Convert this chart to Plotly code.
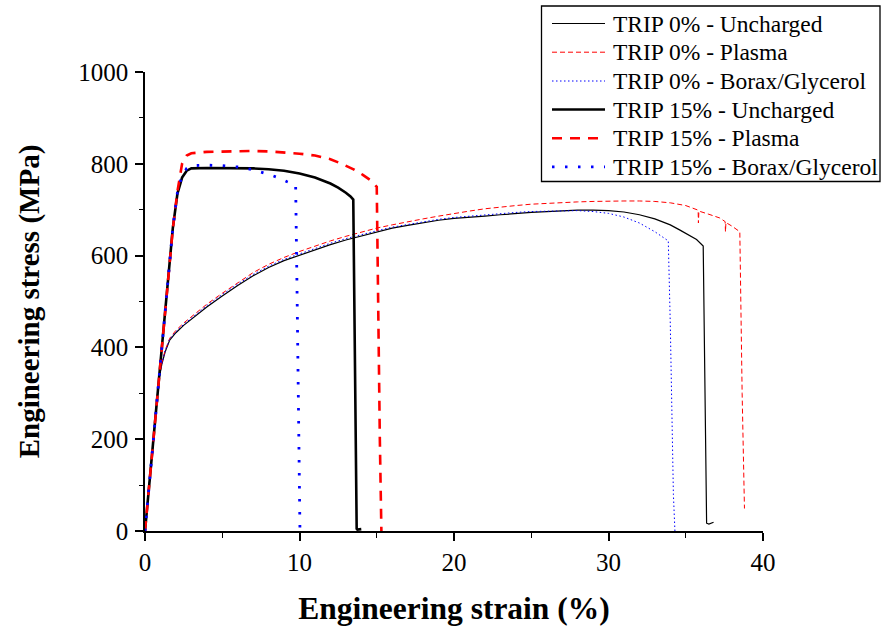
import plotly.graph_objects as go

# ---------------- data ----------------
s0_unch = [0, 0.3, 0.6, 0.9, 1.1, 1.3, 1.6, 2.0, 2.5, 3.0, 4, 5, 6, 7, 8, 9, 10, 11, 12, 13, 14, 15, 16, 17, 18, 19, 20,
           21, 22, 23, 24, 25, 26, 27, 28, 29, 30, 31, 32, 33, 34, 34.6, 35.2, 35.7, 36.13, 36.2, 36.28, 36.35, 36.5, 36.8]
t0_unch = [0, 110, 225, 330, 365, 390, 416, 432, 448, 462, 488, 512, 535, 556, 574, 589, 601, 613, 624, 634, 643, 652,
           660, 666, 672, 677, 681, 683, 686, 689, 692, 694, 696, 698, 699, 699, 698, 695, 689, 680, 667, 656, 645, 635,
           621, 400, 200, 17, 15, 19]

s0_plas = [0, 0.3, 0.6, 0.9, 1.1, 1.3, 1.6, 2, 2.5, 3, 4, 5, 6, 7, 8, 9, 10, 11, 12, 13, 14, 15, 16, 17, 18, 19, 20,
           21, 22, 23, 24, 25, 26, 27, 28, 29, 30, 31, 32, 33, 34, 35, 35.8, 35.82, 35.85, 36.5, 37.2, 37.55, 37.57,
           37.6, 38.0, 38.5, 38.65, 38.8]
t0_plas = [0, 110, 225, 332, 368, 393, 420, 437, 453, 467, 494, 518, 541, 563, 581, 596, 609, 621, 632, 642, 651, 660,
           667, 674, 680, 686, 692, 697, 702, 706, 709, 712, 714, 716, 717, 718, 719, 719, 719, 718, 715, 709, 699, 671,
           697, 690, 682, 674, 652, 672, 664, 652, 300, 49]

s0_bor = [0, 0.3, 0.6, 0.9, 1.1, 1.3, 1.6, 2, 2.5, 3, 4, 5, 6, 7, 8, 9, 10, 11, 12, 13, 14, 15, 16, 17, 18, 19, 20,
          21, 22, 23, 24, 25, 26, 27, 28, 29, 30, 31, 32, 33, 33.5, 33.87, 34.0, 34.1, 34.2, 34.3]
t0_bor = [0, 110, 225, 330, 366, 392, 418, 434, 450, 464, 491, 515, 538, 559, 577, 592, 604, 616, 627, 637, 646, 654,
          662, 668, 674, 679, 683, 686, 689, 692, 694, 696, 697, 698, 698, 696, 692, 684, 671, 652, 641, 632, 450, 250,
          80, 0]

s15_unch = [0, 0.5, 1.0, 1.4, 1.8, 2.1, 2.4, 2.7, 3.0, 4, 5, 6, 7, 8, 9, 10, 11, 12, 12.5, 13, 13.3, 13.48,
            13.55, 13.62, 13.7, 13.75, 14.0]
t15_unch = [0, 185, 370, 518, 660, 735, 770, 785, 790, 791, 791, 790, 790, 788, 785, 779, 770, 757, 748, 737, 729,
            722, 500, 250, 5, 3, 4]

s15_plas = [0, 0.5, 1.0, 1.4, 1.8, 2.1, 2.4, 2.7, 3.0, 4, 5, 6, 7, 8, 9, 10, 11, 12, 12.8, 13.5, 14.1, 14.6, 15.0,
            15.05, 15.1, 15.2, 15.3]
t15_plas = [0, 180, 365, 515, 658, 740, 800, 818, 823, 826, 827, 828, 828, 827, 825, 822, 818, 810, 799, 788, 776,
            764, 750, 600, 450, 200, 0]

s15_bor = [0, 0.5, 1.0, 1.4, 1.8, 2.1, 2.4, 2.7, 3.0, 4, 5, 6, 7, 8, 8.6, 9.2, 9.6, 9.75, 9.85, 9.95, 10.03]
t15_bor = [0, 185, 370, 518, 660, 738, 775, 790, 796, 797, 796, 793, 787, 777, 770, 761, 756, 754, 500, 250, 0]

labels = ["TRIP 0% - Uncharged", "TRIP 0% - Plasma", "TRIP 0% - Borax/Glycerol",
          "TRIP 15% - Uncharged", "TRIP 15% - Plasma", "TRIP 15% - Borax/Glycerol"]
x_ticks = [0, 10, 20, 30, 40]
y_ticks = [0, 200, 400, 600, 800, 1000]

series = [(s0_unch, t0_unch), (s0_plas, t0_plas), (s0_bor, t0_bor),
          (s15_unch, t15_unch), (s15_plas, t15_plas), (s15_bor, t15_bor)]
styles = [dict(color="#000000", width=1.2, dash="solid"),
          dict(color="#ff0000", width=1.0, dash="5px,3px"),
          dict(color="#0000ff", width=1.0, dash="1.5px,2.5px"),
          dict(color="#000000", width=2.6, dash="solid"),
          dict(color="#ff0000", width=2.6, dash="10px,8px"),
          dict(color="#0000ff", width=2.8, dash="2.5px,10.5px")]

FONT = "Liberation Serif, Times New Roman, serif"
W, H = 881, 632
L, R, T, B = 145, 118, 72, 101
PW, PH = W - L - R, H - T - B

fig = go.Figure()
for (xs, ys), st, lab in zip(series, styles, labels):
    fig.add_trace(go.Scatter(x=xs, y=ys, mode="lines", name=lab, line=st, showlegend=False))

# manual legend (pixel -> paper helpers)
def px(xp):
    return (xp - L) / PW

def py(yp):
    return (H - B - yp) / PH

shapes = [dict(type="rect", xref="paper", yref="paper", x0=px(541.5), x1=px(880), y0=py(6), y1=py(181.5),
               line=dict(color="black", width=1.3), fillcolor="white", layer="above")]
annotations = []
row_y = [23.5, 52.2, 81, 109.5, 138.2, 166.8]
for lab, st, ry in zip(labels, styles, row_y):
    shapes.append(dict(type="line", xref="paper", yref="paper", x0=px(552), x1=px(605), y0=py(ry), y1=py(ry),
                       line=dict(color=st["color"], width=st["width"], dash=st["dash"]), layer="above"))
    annotations.append(dict(xref="paper", yref="paper", x=px(611), y=py(ry), text=lab, showarrow=False,
                            xanchor="left", yanchor="middle", font=dict(family=FONT, size=23.5, color="black")))

fig.update_layout(
    width=W, height=H, margin=dict(l=L, r=R, t=T, b=B, pad=0, autoexpand=False),
    paper_bgcolor="white", plot_bgcolor="white",
    font=dict(family=FONT, color="black"),
    shapes=shapes, annotations=annotations, showlegend=False,
)
fig.update_xaxes(range=[0, 40], tickvals=x_ticks, ticktext=[str(v) for v in x_ticks], automargin=False,
                 showline=True, linecolor="black", linewidth=1.5, mirror=False,
                 ticks="outside", ticklen=8, tickwidth=1.5, tickcolor="black",
                 minor=dict(ticks="outside", ticklen=5, tickwidth=1.2, tickcolor="black", dtick=5, tick0=0, showgrid=False),
                 showgrid=False, zeroline=False,
                 tickfont=dict(family=FONT, size=25, color="black"), ticklabelstandoff=0,
                 title=dict(text="<b>Engineering strain (%)</b>", font=dict(family=FONT, size=31.5, color="black"),
                            standoff=22))
fig.update_yaxes(range=[0, 1000], tickvals=y_ticks, ticktext=[str(v) for v in y_ticks], automargin=False,
                 showline=True, linecolor="black", linewidth=1.5, mirror=False,
                 ticks="outside", ticklen=8, tickwidth=1.5, tickcolor="black",
                 minor=dict(ticks="outside", ticklen=4, tickwidth=1.2, tickcolor="black", dtick=100, tick0=0, showgrid=False),
                 showgrid=False, zeroline=False,
                 tickfont=dict(family=FONT, size=25, color="black"), ticklabelstandoff=2,
                 title=dict(text="<b>Engineering stress (MPa)</b>", font=dict(family=FONT, size=29, color="black"),
                            standoff=30))

fig.write_html("out.html")
